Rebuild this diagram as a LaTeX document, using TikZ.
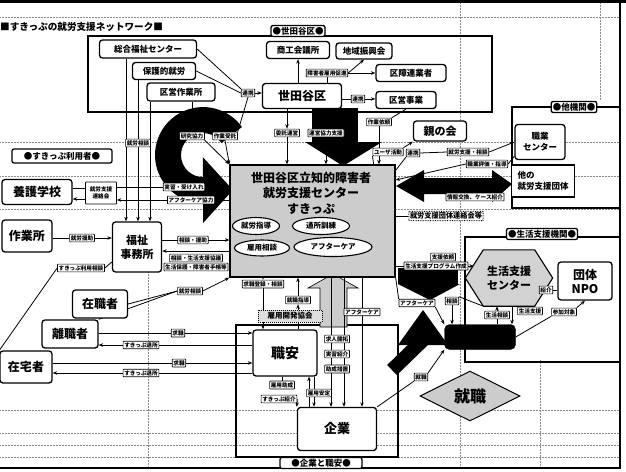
\documentclass[tikz,border=0pt]{standalone}
\usepackage{fontspec}
\setmainfont{Noto Sans CJK JP}
\usetikzlibrary{arrows.meta,shapes.geometric,calc}
\newcommand\myfs[2]{\fontsize{#1}{#2}\selectfont}
\pgfdeclarelayer{back}
\pgfdeclarelayer{mid}
\pgfsetlayers{back,mid,main}
\begin{document}
\begin{tikzpicture}[x=1pt,y=-1pt,
  box/.style={draw,line width=1.3pt,rounded corners=3pt,fill=white,font={\bfseries\myfs{8.5}{11}},inner sep=1pt,align=center},
  lbl/.style={draw,line width=0.7pt,fill=white,font={\bfseries\myfs{5.6}{7}},inner sep=1.2pt,rounded corners=0.6pt,align=center},
  conn/.style={line width=0.8pt},
  arr/.style={conn,-{Stealth[length=4.5pt,width=3.5pt]}},
  rgn/.style={draw,line width=1.2pt},
  rlbl/.style={draw,line width=1.3pt,rounded corners=2pt,fill=white,font={\bfseries\myfs{8.5}{9}},inner sep=1.5pt},
  gridln/.style={black!45,line width=0.5pt,densely dotted},
  oval/.style={ellipse,draw,line width=1.1pt,fill=white,font={\bfseries\myfs{7.5}{8}},inner sep=0pt},
  hatch/.style={fill=gray!40},
]
\useasboundingbox (0,0) rectangle (626,471);
\begin{pgfonlayer}{back}
\fill[white] (0,0) rectangle (626,471);
% dotted grid
\foreach \yy in {17,142,176,209,410,433,445,457} \draw[gridln] (0,\yy) -- (620,\yy);
\draw[gridln] (148,260) -- (148,468);
\draw[gridln] (460,0) -- (460,468);
\draw[gridln] (540,360) -- (540,468);
\draw[gridln] (600,0) -- (600,100);
% frame
\draw[line width=3pt] (0,1.5) -- (626,1.5);
\draw[line width=2pt] (620,0) -- (620,468);
\draw[line width=2.5pt] (0,468) -- (621,468);
% regions
\draw[rgn] (88,36) rectangle (492,112);
\draw[rgn] (512,107) rectangle (620,208);
\draw[rgn] (465,237) rectangle (620,362);
\draw[rgn] (236,325) rectangle (398,457);
% big curved arrow (left)
\draw[line width=26pt,-{Triangle[length=30pt,width=64pt]}]
  (231.7,135) arc[start angle=-35,end angle=-270,radius=35] -- (233,190);
% big down arrow from Setagaya-ku
\fill[black] (312,108) rectangle (358,142);
\fill[black] (305,142) -- (382,142) -- (343,166) -- cycle;
% big right double arrow
\fill[black] (396,186) -- (424,170) -- (424,178) -- (492,178) -- (492,170) -- (512,184) -- (492,202) -- (492,194) -- (424,194) -- (424,202) -- cycle;
% hatched vertical arrow
\filldraw[hatch,draw=black,line width=0.6pt] (320,327) -- (320,288) -- (308,288) -- (333,274) -- (358,288) -- (347,288) -- (347,327) -- cycle;
% black shapes lower right
\fill[black] (398,268) rectangle (458,284);
\fill[black] (398,284) -- (460,284) -- (430,300) -- cycle;
\fill[black] (398,345) -- (448,345) -- (423,310) -- cycle;
\draw[line width=14pt] (423,340) -- (392,370);
\end{pgfonlayer}

% title
\node[anchor=west,inner sep=0,font={\bfseries\myfs{9.6}{10}}] (title) at (0,27) {■すきっぷの就労支援ネットワーク■};

% Setagaya-ku block
\node[rlbl] (rsetagaya) at (298,31) {●世田谷区●};
\node[box,minimum width=97pt,minimum height=18pt] (sogo) at (148,49) {総合福祉センター};
\node[box,minimum width=63pt,minimum height=17pt] (hogo) at (164,71) {保護的就労};
\node[box,minimum width=68pt,minimum height=18pt] (kuei) at (181,92) {区営作業所};
\node[box,minimum width=63pt,minimum height=17pt] (shoko) at (298,50) {商工会議所};
\node[box,minimum width=56pt,minimum height=16pt] (chiiki) at (364,51) {地域振興会};
\node[box,minimum width=70pt,minimum height=17pt] (kusho) at (411,73) {区障連業者};
\node[box,minimum width=79pt,minimum height=25pt,font={\bfseries\myfs{12}{14}}] (setagaya) at (302,96) {世田谷区};
\node[box,minimum width=60pt,minimum height=17pt] (kujigyo) at (406,100) {区営事業};
\node[lbl] (lrenkeiA) at (248,93) {連携};
\node[lbl] (lkoyo) at (327,73) {障害者雇用促進};
\node[lbl] (lrenkeiB) at (358,99) {連携};
\node[lbl] (lsagyoirai) at (379,122) {作業依頼};
\node[lbl] (lkenkyu) at (192,136) {研究協力};
\node[lbl] (ljutaku) at (225,136) {作業受託};
\node[lbl] (litaku) at (287,133) {委託運営};
\node[lbl] (lunei) at (326,133) {運営協力支援};

% left side
\node[rlbl,minimum width=100pt,minimum height=14pt] (riyosha) at (62,156) {●すきっぷ利用者●};
\node[box,minimum width=70pt,minimum height=25pt,font={\bfseries\myfs{12}{14}}] (yogo) at (37,192) {養護学校};
\node[lbl,minimum width=31pt,minimum height=22pt,font={\bfseries\myfs{5.6}{7.5}}] (lrenraku) at (101,193) {就労支援\\連絡会};
\node[box,minimum width=50pt,minimum height=32pt,font={\bfseries\myfs{12}{14}}] (sagyo) at (27,236) {作業所};
\node[lbl] (lenjo) at (82,238) {就労援助};
\node[box,minimum width=49pt,minimum height=50pt,font={\bfseries\myfs{11}{14}}] (fukushi) at (137,247) {福祉\\事務所};
\node[lbl] (lriyosodan) at (81,268) {すきっぷ利用相談};
\node[box,minimum width=55pt,minimum height=28pt,font={\bfseries\myfs{12}{14}}] (zaishoku) at (100,304) {在職者};
\node[box,minimum width=56pt,minimum height=28pt,font={\bfseries\myfs{12}{14}}] (rishoku) at (70,334) {離職者};
\node[box,minimum width=52pt,minimum height=32pt,font={\bfseries\myfs{12}{14}}] (zaitaku) at (26,367) {在宅者};
\node[lbl] (lsodanB) at (190,291) {就労相談};
\node[lbl] (lkyuA) at (178,333) {求職};
\node[lbl] (ltaiA) at (141,345) {すきっぷ退所};
\node[lbl] (lkyuB) at (179,363) {求職};
\node[lbl] (ltaiB) at (141,373) {すきっぷ退所};
\node[lbl] (lsodanA) at (138,143) {就労相談};
\node[lbl] (ljisshu) at (184,187) {実習・受け入れ};
\node[lbl] (lafk) at (191,200) {アフターケア協力};
\node[lbl] (lsoen) at (193,240) {相談・援助};
\node[lbl] (lseikatsu) at (196,258) {相談・生活支援協議};
\node[lbl] (ltecho) at (196,267) {生活保護・障害者手帳等};

% center
\node[draw,line width=1.3pt,fill=gray!40,minimum width=165pt,minimum height=112pt] (cen) at (312.5,221) {};
\node[font={\bfseries\myfs{12}{15.5}},align=center] (centitle) at (311,193) {世田谷区立知的障害者\\就労支援センター\\すきっぷ};
\node[oval,minimum width=47pt,minimum height=17pt] (e1) at (256,226) {就労指導};
\node[oval,minimum width=57pt,minimum height=17pt] (e2) at (321,226) {通所訓練};
\node[oval,minimum width=55pt,minimum height=16pt] (e3) at (262,248) {雇用相談};
\node[oval,minimum width=78pt,minimum height=19pt] (e4) at (333,247) {アフターケア};

% right side
\node[box,minimum width=53pt,minimum height=20pt,font={\bfseries\myfs{11}{13}}] (oya) at (440,131) {親の会};
\node[lbl] (luser) at (388,152) {ユーザ活動};
\node[lbl] (lrenkeiC) at (413,153) {連携};
\node[lbl] (lshienA) at (468,152) {就労支援・相談};
\node[lbl] (lshienB) at (487,164) {職業評価・指導};
\node[rlbl] (rtakikan) at (574,107) {●他機関●};
\node[box,minimum width=50pt,minimum height=35pt] (shokugyo) at (540,142) {職業\\センター};
\node[box,rounded corners=0pt,minimum width=63pt,minimum height=32pt,align=left] (tano) at (543,181) {他の\\就労支援団体};
\node[lbl] (ljoho) at (475,197) {情報交換、ケース紹介};
\node[lbl,densely dotted,line width=1pt,font={\bfseries\myfs{7.2}{8}}] (renrakukai) at (446,216) {就労支援団体連絡会等};

% life support
\node[rlbl] (rseikatsu) at (542,234) {●生活支援機関●};
\node[minimum width=87pt,minimum height=56pt,inner sep=0] (seikatsu) at (509,278) {};
\filldraw[fill=gray!35,draw=black,line width=1.1pt] (seikatsu.west) -- ($(seikatsu.north west)+(18,0)$) -- ($(seikatsu.north east)+(-18,0)$) -- (seikatsu.east) -- ($(seikatsu.south east)+(-18,0)$) -- ($(seikatsu.south west)+(18,0)$) -- cycle;
\node[font={\bfseries\myfs{11}{14}},align=center] (seikatsutxt) at (509,278) {生活支援\\センター};
\node[box,minimum width=54pt,minimum height=38pt,font={\bfseries\myfs{12}{14}}] (npo) at (585,281) {団体\\NPO};
\node[lbl] (lshokai) at (546,290) {紹介};
\node[draw,fill=black,rounded corners=5pt,minimum width=71pt,minimum height=25pt] (kuro) at (480,337) {};
\node[lbl] (lsodanC) at (497,315) {生活相談};
\node[lbl] (lseishien) at (530,311) {生活支援};
\node[lbl] (lsanka) at (564,312) {参加対象};
\node[lbl] (lirai) at (443,257) {支援依頼};
\node[lbl] (lprog) at (436,266) {生活支援プログラム作成};
\node[lbl] (lafterB) at (417,303) {アフターケア};
\node[lbl] (lsodanD) at (452,301) {相談};
\node[diamond,aspect=2,draw,line width=1pt,fill=gray!40,minimum width=100pt,minimum height=50pt,inner sep=0,font={\bfseries\myfs{16}{18}}] (shushoku) at (470,396) {就職};
\node[lbl] (lshuB) at (421,377) {就職};

% companies and employment office
\node[rlbl,minimum width=82pt] (rkigyo) at (321,463) {●企業と職安●};
\node[draw,densely dotted,line width=1pt,fill=gray!25,font={\bfseries\myfs{7.5}{8}},inner sep=1.5pt,minimum width=64pt,minimum height=12pt] (kyokai) at (290,316) {雇用開発協会};
\node[box,minimum width=64pt,minimum height=46pt,font={\bfseries\myfs{14}{16}}] (shokuan) at (285,353) {職安};
\node[box,minimum width=79pt,minimum height=43pt,font={\bfseries\myfs{13}{15}}] (kigyo) at (337,429) {企業};
\node[lbl] (lkyureg) at (263,284) {求職登録・相談};
\node[lbl] (lshido) at (298,300) {就職指導};
\node[lbl] (lafterC) at (362,312) {アフターケア};
\node[lbl] (lkaitaku) at (337,339) {求人開拓};
\node[lbl] (ljisshuB) at (337,354) {実習紹介};
\node[lbl] (ljosei) at (337,369) {助成措置};
\node[lbl] (lkoyojosei) at (282,385) {雇用助成};
\node[lbl] (lantei) at (319,393) {雇用安定};
\node[lbl] (lshokaiB) at (279,399) {すきっぷ紹介};

\coordinate (f1) at ($(fukushi.north)+(-11,0)$);
\coordinate (f2) at ($(fukushi.north)+(1,0)$);
\coordinate (f3) at ($(fukushi.north)+(13,0)$);
\coordinate (k1) at (331,0);
\coordinate (k2) at (344,0);
\coordinate (hexL) at (474,266);

\begin{pgfonlayer}{mid}
% Setagaya-ku block
\draw[conn] (sogo.east) -- (lrenkeiA.north west);
\draw[conn] (hogo.east) -- (lrenkeiA.west);
\draw[arr] (lrenkeiA.east) -- (setagaya.west |- lrenkeiA.east);
\draw[arr] (shoko.south |- setagaya.north) -- (shoko.south);
\draw[conn] (setagaya.north -| lkoyo.south) -- (lkoyo.south);
\draw[arr] (lkoyo.east) -- (chiiki.south);
\draw[arr] (lkoyo.east) -- (kusho.west);
\draw[conn] (setagaya.east |- lrenkeiB) -- (lrenkeiB.west);
\draw[arr] (lrenkeiB.east) -- (kujigyo.west |- lrenkeiB);
\draw[conn] (kujigyo.south) -- (lsagyoirai.north east);
\draw[arr] (lsagyoirai.south) -- (cen.north -| lsagyoirai.south);
\draw[arr] (sogo.south -| f1) -- (f1);
\draw[arr] (hogo.south -| f2) -- (f2);
\draw[arr] (kuei.south -| f3) -- (f3);
\draw[conn] (kuei.south -| lkenkyu) -- (lkenkyu.north);
\draw[arr] (lkenkyu.south east) -- (cen.north west);
\draw[conn] (lrenkeiA.south) -- (ljutaku.north east);
\draw[arr] (ljutaku.south) -- (cen.north west);
\draw[arr] (setagaya.south -| litaku) -- (litaku.north);
\draw[arr] (litaku.south) -- (cen.north -| litaku);
\draw[conn] (setagaya.south -| lunei) -- (lunei.north);
\draw[arr] (lunei.south) -- (cen.north -| lunei);
% left side
\draw[conn] (yogo.east |- 0,188) -- (lrenraku.west |- 0,188);
\draw[arr] (lrenraku.west |- 0,199) -- (yogo.east |- 0,199);
\draw[arr] (lrenraku.east |- ljisshu) -- (cen.west |- ljisshu);
\draw[arr] (cen.west |- lafk) -- (lrenraku.east |- lafk);
\draw[conn] (sagyo.east |- lenjo) -- (lenjo.west);
\draw[arr] (lenjo.east) -- (fukushi.west |- lenjo);
\draw[arr] (fukushi.east |- lsoen) -- (cen.west |- lsoen);
\draw[arr] (cen.west |- 0,251) -- (fukushi.east |- 0,251);
\draw[conn] (fukushi.west |- 0,262) -- (lriyosodan.east);
\draw[conn] (lriyosodan.west) -- (zaitaku.north west);
\draw[conn] (zaishoku.east) -- (lsodanB.west);
\draw[conn] (rishoku.north east) -- (lsodanB.west);
\draw[arr] (lsodanB.east) -- (cen.south west);
\draw[conn] (rishoku.east |- lkyuA) -- (lkyuA.west);
\draw[arr] (lkyuA.east) -- (shokuan.west |- lkyuA);
\draw[conn] (shokuan.west |- ltaiA) -- (ltaiA.east);
\draw[arr] (ltaiA.west) -- (rishoku.east |- ltaiA);
\draw[conn] (zaitaku.east |- lkyuB) -- (lkyuB.west);
\draw[arr] (lkyuB.east) -- (shokuan.west |- lkyuB);
\draw[conn] (shokuan.west |- ltaiB) -- (ltaiB.east);
\draw[arr] (ltaiB.west) -- (zaitaku.east |- ltaiB);
% right side
\draw[conn] ($(cen.north east)+(-22,0)$) -- (luser.south west);
\draw[arr] (luser.north east) -- (oya.south west);
\draw[conn] ($(cen.north east)+(0,6)$) -- (lrenkeiC.south west);
\draw[conn] (lrenkeiC.east) -- (lshienA.west);
\draw[arr] (lshienA.east) -- (shokugyo.west);
\draw[conn] ($(shokugyo.south west)+(0,-4)$) -- (lshienB.east);
\draw[arr] (lshienB.west) -- (cen.east |- 0,180);
\draw[conn] (cen.east |- renrakukai) -- (renrakukai.west);
% life support
\draw[conn] (cen.east |- lprog) -- (lprog.west);
\draw[arr] (lprog.east) -- (hexL);
\draw[conn] (lshokai.east) -- (npo.west |- lshokai);
\draw[arr] (kuro.north -| 497,0) -- (seikatsu.south -| 497,0);
\draw[arr] (seikatsu.south -| 512,0) -- (kuro.north -| 512,0);
\draw[conn] (kuro.east) -- (lsanka.south west);
\draw[arr] (lsanka.north east) -- (npo.south);
\draw[conn] (cen.south east) -- (lafterB.north west);
\draw[arr] (lafterB.south east) -- (kuro.north west);
\draw[conn] ($(seikatsu.south west)+(18,0)$) -- (lsodanD.north east);
\draw[arr] (lsodanD.south) -- (kuro.north -| lsodanD.south);
\draw[conn] (kigyo.north east) -- (lshuB.south west);
\draw[arr] (lshuB.north east) -- (kuro.south west);
% companies and employment office
\draw[arr] (cen.south -| lkyureg) -- (lkyureg.north);
\draw[arr] (lkyureg.south) -- (shokuan.north -| lkyureg.south);
\draw[arr] (shokuan.north -| lshido) -- (lshido.south);
\draw[arr] (lshido.north) -- (cen.south -| lshido);
\draw[arr] (cen.south -| k1) -- (kigyo.north -| k1);
\draw[arr] (cen.south -| k2) -- (kigyo.north -| k2);
\draw[arr] (cen.south -| lafterC) -- (kigyo.north -| lafterC);
\draw[arr] (kigyo.north -| 309,0) -- (shokuan.south -| 309,0);
\draw[arr] (shokuan.south -| 314,0) -- (kigyo.north -| 314,0);
\draw[conn] (shokuan.south -| lkoyojosei) -- (lkoyojosei.north);
\draw[arr] (lshokaiB.east) -- (kigyo.north west);
\end{pgfonlayer}
\end{tikzpicture}
\end{document}
